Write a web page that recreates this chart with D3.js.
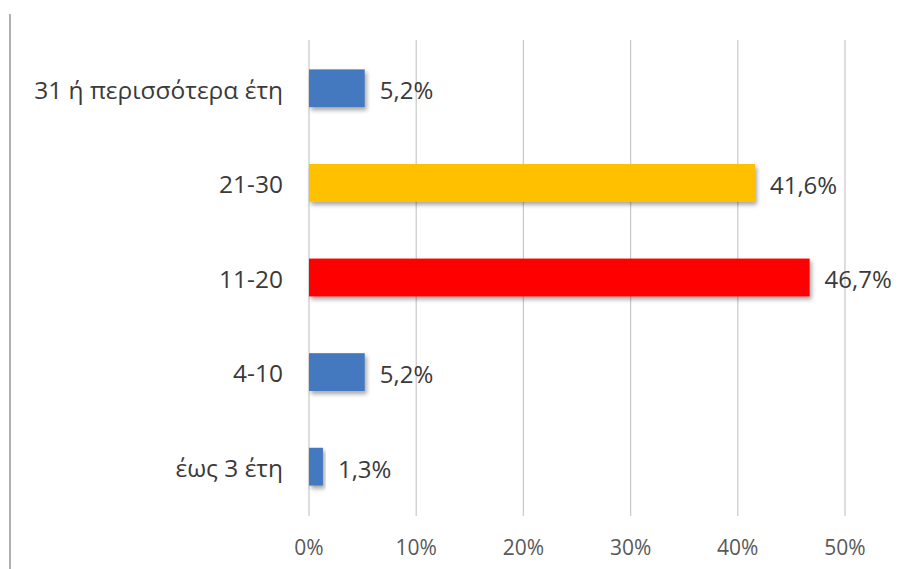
<!DOCTYPE html>
<html><head><meta charset="utf-8">
<script src="https://cdn.jsdelivr.net/npm/d3@7"></script>
<style>
html,body{margin:0;padding:0;background:#fff;}
svg{display:block;}
text{font-family:"Open Sans","DejaVu Sans",sans-serif;}
</style></head>
<body>
<svg id="chart" width="898" height="569"></svg>
<script>
const categories = ["31 ή περισσότερα έτη", "21-30", "11-20", "4-10", "έως 3 έτη"];
const values = [5.2, 41.6, 46.7, 5.2, 1.3];
const labels = ["5,2%", "41,6%", "46,7%", "5,2%", "1,3%"];
const colors = ["#4579bf", "#ffc000", "#ff0000", "#4579bf", "#4579bf"];
const xTicks = [0, 10, 20, 30, 40, 50];
const xTickLabels = ["0%", "10%", "20%", "30%", "40%", "50%"];

const svg = d3.select("#chart");
const defs = svg.append("defs");
const f = defs.append("filter").attr("id","sh").attr("x","-10%").attr("y","-30%").attr("width","130%").attr("height","180%");
f.append("feDropShadow").attr("dx",2).attr("dy",3).attr("stdDeviation",2).attr("flood-color","#000").attr("flood-opacity",0.35);

// left frame line
svg.append("line").attr("x1",10).attr("x2",10).attr("y1",14).attr("y2",569)
  .attr("stroke","#b0b0b0").attr("stroke-width",2);

const x = d3.scaleLinear().domain([0,50]).range([309,845]);
const y = d3.scaleBand().domain(categories).range([41,514]).paddingInner(0.6).paddingOuter(0.3);

// gridlines
svg.append("g").selectAll("line").data(xTicks).join("line")
  .attr("x1",d=>x(d)).attr("x2",d=>x(d)).attr("y1",40).attr("y2",516)
  .attr("stroke","#c8c8c8").attr("stroke-width",1.2);

// x tick labels
svg.append("g").selectAll("text").data(xTicks).join("text")
  .attr("x",d=>x(d)).attr("y",555).attr("text-anchor","middle")
  .attr("font-size",21).attr("fill","#595959")
  .text((d,i)=>xTickLabels[i]);

// bars
svg.append("g").selectAll("rect").data(categories).join("rect")
  .attr("x",x(0)).attr("y",d=>y(d)).attr("height",y.bandwidth())
  .attr("width",(d,i)=>x(values[i])-x(0))
  .attr("fill",(d,i)=>colors[i]).attr("filter","url(#sh)");

// value labels
svg.append("g").selectAll("text").data(categories).join("text")
  .attr("x",(d,i)=>x(values[i])+15).attr("y",d=>y(d)+y.bandwidth()/2)
  .attr("dy","0.45em").attr("font-size",24).attr("fill","#3a3a3a")
  .text((d,i)=>labels[i]);

// category labels
svg.append("g").selectAll("text").data(categories).join("text")
  .attr("x",283).attr("y",d=>y(d)+y.bandwidth()/2)
  .attr("dy","0.42em").attr("text-anchor","end").attr("font-size",24.5).attr("fill","#3a3a3a")
  .text(d=>d);
</script>
</body></html>
